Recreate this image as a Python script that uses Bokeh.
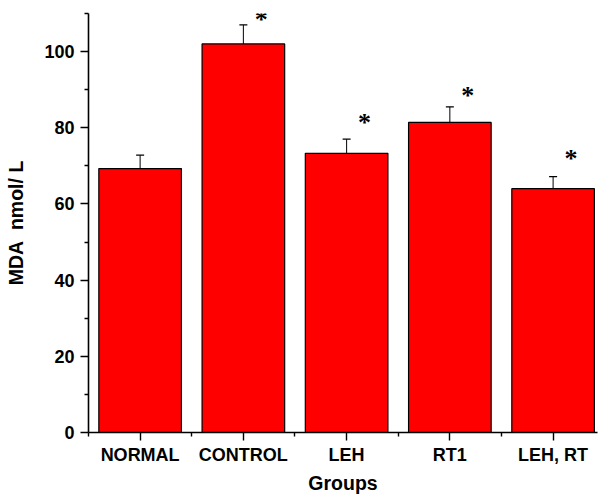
from bokeh.plotting import figure
from bokeh.models import (ColumnDataSource, Range1d, FixedTicker, Whisker, TeeHead, LabelSet)
from bokeh.embed import file_html
from bokeh.resources import INLINE

# ---- data ----
groups = ["NORMAL", "CONTROL", "LEH", "RT1", "LEH, RT"]
mda = [69.3, 102.0, 73.3, 81.4, 64.0]
err = [3.5, 5.0, 3.7, 4.1, 3.2]
sig_marks = ["", "*", "*", "*", "*"]
sig_y = [0, 109.3, 82.3, 89.3, 72.6]
y_major = [0, 20, 40, 60, 80, 100]
y_minor = [10, 30, 50, 70, 90, 110]

xs = list(range(1, len(groups) + 1))
src = ColumnDataSource(dict(
    x=xs, top=mda,
    upper=[m + e for m, e in zip(mda, err)],
    lower=[m - e for m, e in zip(mda, err)],
))
sig_src = ColumnDataSource(dict(
    x=[x for x, s in zip(xs, sig_marks) if s],
    y=[y for y, s in zip(sig_y, sig_marks) if s],
    t=[s for s in sig_marks if s],
))

FONT = "Liberation Sans"

p = figure(width=598, height=497, output_backend="svg", toolbar_location=None,
           x_range=Range1d(0.5, 5.43), y_range=Range1d(0, 110),
           min_border_left=88, min_border_right=1, min_border_top=13,
           min_border_bottom=65)
p.outline_line_color = None
p.xgrid.visible = False
p.ygrid.visible = False
p.background_fill_color = "white"
p.border_fill_color = "white"

p.vbar(x="x", top="top", bottom=0, width=0.8, source=src,
       fill_color="#ff0000", line_color="black", line_width=1.2)

w = Whisker(base="x", upper="upper", lower="lower", source=src,
            line_color="black", line_width=1,
            upper_head=TeeHead(size=8, line_color="black", line_width=1.2),
            lower_head=TeeHead(size=8, line_color="black", line_width=1.2))
p.add_layout(w)

stars = LabelSet(x="x", y="y", text="t", source=sig_src, x_offset=18, y_offset=-3,
                 text_font=FONT, text_font_style="bold", text_font_size="26px",
                 text_align="center", text_baseline="middle", text_color="black")
p.add_layout(stars)

# axes
for ax in (p.xaxis[0], p.yaxis[0]):
    ax.axis_line_color = "black"
    ax.axis_line_width = 1.6
    ax.major_tick_line_color = "black"
    ax.major_tick_line_width = 1.4
    ax.minor_tick_line_color = "black"
    ax.minor_tick_line_width = 1.4
    ax.major_tick_in = 0
    ax.major_tick_out = 8
    ax.minor_tick_in = 0
    ax.minor_tick_out = 4
    ax.major_label_text_font = FONT
    ax.major_label_text_font_style = "bold"
    ax.major_label_text_font_size = "18px"
    ax.major_label_text_color = "black"
    ax.axis_label_text_font = FONT
    ax.axis_label_text_font_style = "bold"
    ax.axis_label_text_font_size = "19.5px"
    ax.axis_label_text_color = "black"

p.xaxis[0].ticker = FixedTicker(ticks=xs, minor_ticks=[x - 0.5 for x in xs])
p.xaxis[0].major_label_overrides = {x: g for x, g in zip(xs, groups)}
p.xaxis[0].axis_label = "Groups"
p.xaxis[0].major_label_standoff = 4
p.xaxis[0].axis_label_standoff = 4

p.yaxis[0].ticker = FixedTicker(ticks=y_major, minor_ticks=y_minor)
p.yaxis[0].axis_label = "MDA\u00a0 nmol/ L"
p.yaxis[0].major_label_standoff = 6
p.yaxis[0].axis_label_standoff = 14

open("out.html", "w").write(file_html(p, INLINE))
